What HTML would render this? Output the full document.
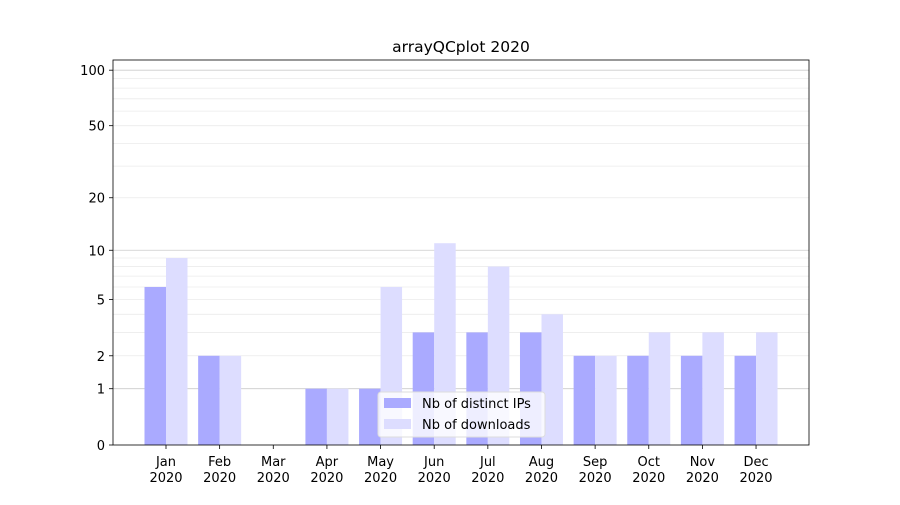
<!DOCTYPE html>
<html><head><meta charset="utf-8"><style>
body{margin:0;background:#fff;}
svg text{font-family:"DejaVu Sans","Liberation Sans",sans-serif;font-size:13px;fill:#000;}
</style></head><body>
<svg id="s" width="900" height="500" xmlns="http://www.w3.org/2000/svg"></svg>
<script>
const s=document.getElementById('s');
const Y=v=>445-187*Math.log10(v+1);
let h='<rect width="900" height="500" fill="#fff"/>';
const L=113,R=809,T=60,B=445;
const minor=[2,3,4,5,6,7,8,9,20,30,40,50,60,70,80,90];
minor.forEach(v=>{h+=`<line x1="${L}" x2="${R}" y1="${Y(v)}" y2="${Y(v)}" stroke="#ebebeb" stroke-width="0.8"/>`;});
[1,10,100].forEach(v=>{h+=`<line x1="${L}" x2="${R}" y1="${Y(v)}" y2="${Y(v)}" stroke="#cccccc" stroke-width="0.8"/>`;});
const d=[6,2,0,1,1,3,3,3,2,2,2,2], l=[9,2,0,1,6,11,8,4,2,3,3,3];
const m=['Jan','Feb','Mar','Apr','May','Jun','Jul','Aug','Sep','Oct','Nov','Dec'];
const w=21.5;
for(let i=0;i<12;i++){
 const c=166+i*53.64;
 if(d[i]>0)h+=`<rect x="${c-w}" y="${Y(d[i])}" width="${w}" height="${B-Y(d[i])}" fill="#aaaaff"/>`;
 if(l[i]>0)h+=`<rect x="${c}" y="${Y(l[i])}" width="${w}" height="${B-Y(l[i])}" fill="#ddddff"/>`;
 h+=`<line x1="${c}" x2="${c}" y1="${B}" y2="${B+4}" stroke="#000" stroke-width="0.8"/>`;
 h+=`<text x="${c}" y="${B+21}" text-anchor="middle">${m[i]}</text><text x="${c}" y="${B+37}" text-anchor="middle">2020</text>`;
}
[0,1,2,5,10,20,50,100].forEach(v=>{const y=Y(v);
 h+=`<line x1="${L-4}" x2="${L}" y1="${y}" y2="${y}" stroke="#000" stroke-width="0.8"/>`;
 h+=`<text x="${L-8}" y="${y+5}" text-anchor="end">${v}</text>`;});
h+=`<rect x="${L}" y="${T}" width="${R-L}" height="${B-T}" fill="none" stroke="#000" stroke-width="0.8"/>`;
h+=`<text x="461" y="52" text-anchor="middle" style="font-size:15.5px">arrayQCplot 2020</text>`;
h+=`<rect x="378" y="392" width="167" height="45" rx="3" fill="#fff" fill-opacity="0.8" stroke="#ddd"/>`;
h+=`<rect x="384" y="398" width="27" height="10" fill="#aaaaff"/><text x="422" y="408">Nb of distinct IPs</text>`;
h+=`<rect x="384" y="419" width="27" height="10" fill="#ddddff"/><text x="422" y="429">Nb of downloads</text>`;
s.innerHTML=h;
</script>
</body></html>
